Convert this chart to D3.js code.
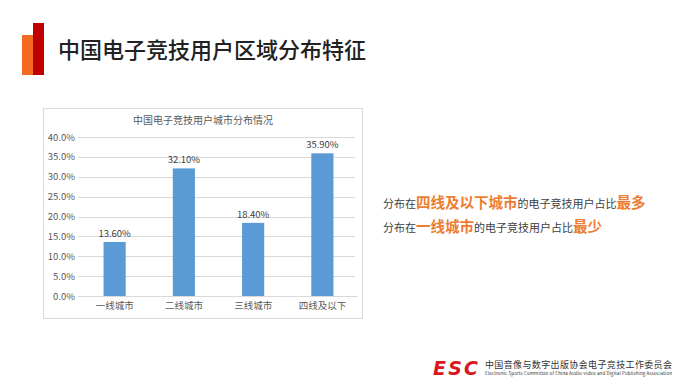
<!DOCTYPE html>
<html>
<head>
<meta charset="utf-8">
<script src="https://cdn.jsdelivr.net/npm/d3@7"></script>
<style>
  body { margin: 0; background: #fff; }
  svg { display: block; font-family: "Noto Sans CJK SC", "Noto Sans", sans-serif; }
</style>
</head>
<body>
<svg id="chart" width="689" height="390"></svg>
<script>
// data
var cities = ["一线城市", "二线城市", "三线城市", "四线及以下"];
var shares = [13.6, 32.1, 18.4, 35.9];
var yTicks = [0, 5, 10, 15, 20, 25, 30, 35, 40];

var svg = d3.select("#chart");

// page title with the red / orange marker
svg.append("rect").attr("x", 22).attr("y", 35).attr("width", 11).attr("height", 40).attr("fill", "#f26b21");
svg.append("rect").attr("x", 33).attr("y", 23).attr("width", 11).attr("height", 52).attr("fill", "#c00000");
svg.append("text")
  .attr("x", 58).attr("y", 58)
  .attr("font-size", "22px")
  .attr("font-weight", "500")
  .attr("fill", "#222")
  .text("中国电子竞技用户区域分布特征");

// chart frame
svg.append("rect")
  .attr("x", 43.5).attr("y", 108.5).attr("width", 319).attr("height", 210)
  .attr("fill", "#fff").attr("stroke", "#d9d9d9");

svg.append("text")
  .attr("x", 203).attr("y", 124)
  .attr("text-anchor", "middle")
  .attr("font-size", "10px")
  .attr("fill", "#595959")
  .text("中国电子竞技用户城市分布情况");

var x = d3.scaleBand().domain(cities).range([80, 357]).paddingInner(0.68).paddingOuter(0.34);
var y = d3.scaleLinear().domain([0, 40]).range([296, 137]);

// gridlines
svg.append("g")
  .selectAll("line")
  .data(yTicks)
  .join("line")
  .attr("x1", 78).attr("x2", 355)
  .attr("y1", function(d) { return Math.round(y(d)) + 0.5; })
  .attr("y2", function(d) { return Math.round(y(d)) + 0.5; })
  .attr("stroke", "#d9d9d9");

// y axis labels
var yAxis = d3.axisLeft(y).tickValues(yTicks).tickSize(0).tickPadding(0)
  .tickFormat(function(d) { return d.toFixed(1) + "%"; });
var yg = svg.append("g").attr("transform", "translate(75,0)").call(yAxis);
yg.select(".domain").remove();
yg.selectAll("text").attr("font-size", "9.5px").attr("fill", "#595959")
  .attr("font-family", "'Noto Sans CJK SC', sans-serif");

// x axis labels
var xAxis = d3.axisBottom(x).tickSize(0).tickPadding(6);
var xg = svg.append("g").attr("transform", "translate(0,296)").call(xAxis);
xg.select(".domain").attr("stroke", "#d9d9d9");
xg.selectAll("text").attr("font-size", "9.5px").attr("fill", "#595959")
  .attr("font-family", "'Noto Sans CJK SC', sans-serif");

// bars
svg.append("g")
  .selectAll("rect")
  .data(shares)
  .join("rect")
  .attr("x", function(d, i) { return x(cities[i]); })
  .attr("y", function(d) { return y(d); })
  .attr("width", x.bandwidth())
  .attr("height", function(d) { return y(0) - y(d); })
  .attr("fill", "#5b9bd5");

// value labels
svg.append("g")
  .selectAll("text")
  .data(shares)
  .join("text")
  .attr("x", function(d, i) { return x(cities[i]) + x.bandwidth() / 2; })
  .attr("y", function(d) { return y(d) - 5; })
  .attr("text-anchor", "middle")
  .attr("font-size", "9.5px")
  .attr("fill", "#404040")
  .text(function(d) { return d.toFixed(2) + "%"; });

// right side notes
var note1 = svg.append("text").attr("x", 383).attr("y", 208).attr("fill", "#404040").attr("font-size", "11px");
note1.append("tspan").text("分布在");
note1.append("tspan").attr("font-size", "14.5px").attr("font-weight", "bold").attr("fill", "#ed7d31").text("四线及以下城市");
note1.append("tspan").text("的电子竞技用户占比");
note1.append("tspan").attr("font-size", "14.5px").attr("font-weight", "bold").attr("fill", "#ed7d31").text("最多");

var note2 = svg.append("text").attr("x", 383).attr("y", 232).attr("fill", "#404040").attr("font-size", "11px");
note2.append("tspan").text("分布在");
note2.append("tspan").attr("font-size", "14.5px").attr("font-weight", "bold").attr("fill", "#ed7d31").text("一线城市");
note2.append("tspan").text("的电子竞技用户占比");
note2.append("tspan").attr("font-size", "14.5px").attr("font-weight", "bold").attr("fill", "#ed7d31").text("最少");

// footer logo
svg.append("text")
  .attr("x", 433).attr("y", 375)
  .attr("font-size", "19px").attr("font-weight", "bold").attr("font-style", "italic")
  .attr("font-family", "'DejaVu Sans', sans-serif")
  .attr("fill", "#d7191f")
  .attr("textLength", 45)
  .text("ESC");
svg.append("text")
  .attr("x", 485).attr("y", 368)
  .attr("font-size", "9px").attr("fill", "#333")
  .attr("textLength", 187)
  .text("中国音像与数字出版协会电子竞技工作委员会");
svg.append("text")
  .attr("x", 485).attr("y", 375)
  .attr("font-size", "4.5px").attr("fill", "#333")
  .attr("textLength", 187)
  .text("Electronic Sports Committee of China Audio-video and Digital Publishing Association");
</script>
</body>
</html>
